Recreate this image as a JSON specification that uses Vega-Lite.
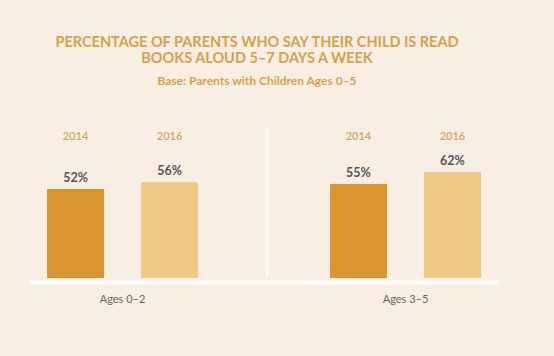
{
  "$schema": "https://vega.github.io/schema/vega-lite/v6.json",
  "width": 468,
  "height": 171,
  "autosize": {"type": "none"},
  "padding": {"left": 30, "top": 107, "right": 56, "bottom": 78},
  "background": "#f8eee4",
  "config": {"view": {"stroke": null}, "font": "Lato"},
  "title": {
    "text": ["PERCENTAGE OF PARENTS WHO SAY THEIR CHILD IS READ", "BOOKS ALOUD 5–7 DAYS A WEEK"],
    "subtitle": "Base: Parents with Children Ages 0–5",
    "anchor": "middle",
    "frame": "group",
    "dx": -7,
    "font": "Lato",
    "fontSize": 14.5,
    "fontWeight": "bold",
    "color": "#d3a24a",
    "lineHeight": 16,
    "subtitleFont": "Lato",
    "subtitleFontSize": 12,
    "subtitleFontWeight": "bold",
    "subtitleColor": "#d3a24a",
    "subtitlePadding": 10,
    "offset": 19
  },
  "data": {
    "values": [
      {"age": "Ages 0–2", "year": "2014", "pct": 0.52},
      {"age": "Ages 0–2", "year": "2016", "pct": 0.56},
      {"age": "Ages 3–5", "year": "2014", "pct": 0.55},
      {"age": "Ages 3–5", "year": "2016", "pct": 0.62}
    ]
  },
  "resolve": {"scale": {"x": "independent"}},
  "layer": [
    {
      "encoding": {
        "x": {
          "field": "age",
          "type": "nominal",
          "scale": {"paddingInner": 0.346, "paddingOuter": 0},
          "axis": {
            "title": null,
            "labelAngle": 0,
            "ticks": false,
            "domainColor": "#ffffff",
            "domainWidth": 4,
            "offset": 4,
            "labelPadding": 11,
            "labelFontSize": 11,
            "labelColor": "#666666",
            "labelFont": "Lato"
          }
        },
        "xOffset": {
          "field": "year",
          "type": "nominal",
          "scale": {"paddingInner": 0.394, "paddingOuter": 0.181}
        }
      },
      "layer": [
        {
          "mark": {"type": "bar"},
          "encoding": {
            "y": {"field": "pct", "type": "quantitative", "scale": {"domain": [0, 1]}, "axis": null},
            "color": {
              "field": "year",
              "type": "nominal",
              "scale": {"domain": ["2014", "2016"], "range": ["#da9530", "#f0c886"]},
              "legend": null
            }
          }
        },
        {
          "mark": {"type": "text", "baseline": "bottom", "dy": -4, "fontSize": 12.5, "fontWeight": "bold", "color": "#555555", "font": "Lato"},
          "encoding": {
            "y": {"field": "pct", "type": "quantitative"},
            "text": {"field": "pct", "type": "quantitative", "format": ".0%"}
          }
        },
        {
          "mark": {"type": "text", "baseline": "middle", "fontSize": 11, "fontWeight": 600, "color": "#d0a562", "font": "Lato"},
          "encoding": {
            "y": {"datum": 0.825, "type": "quantitative"},
            "text": {"field": "year", "type": "nominal"}
          }
        }
      ]
    },
    {
      "mark": {"type": "rule", "color": "#ffffff", "strokeWidth": 2, "strokeDash": [2, 2], "opacity": 0.9},
      "encoding": {
        "x": {"datum": 0.507, "type": "quantitative", "scale": {"domain": [0, 1]}, "axis": null},
        "y": {"datum": 0.88, "type": "quantitative"},
        "y2": {"datum": 0.01}
      }
    }
  ]
}
